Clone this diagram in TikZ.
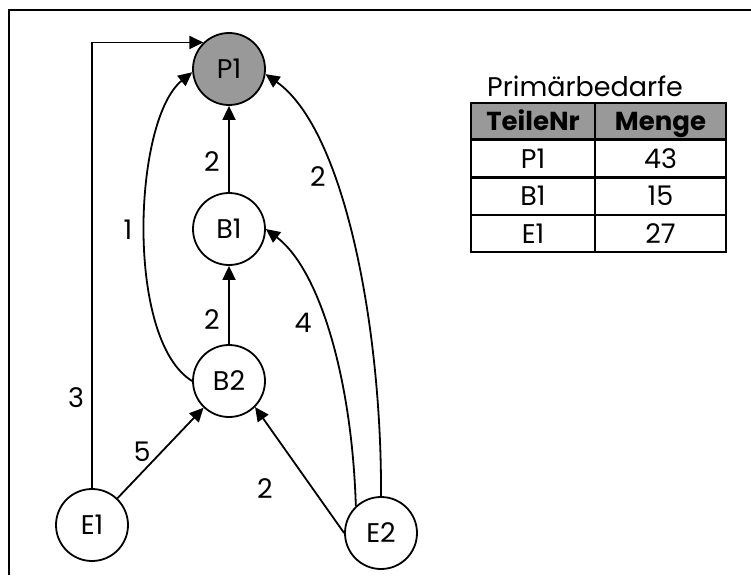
\documentclass[tikz,border=0pt]{standalone}
\usepackage{fontspec}
\setmainfont{Poppins}
\usetikzlibrary{arrows.meta}
\definecolor{pgray}{HTML}{999999}
\tikzset{
  part/.style={circle, draw, line width=1.8pt, minimum size=72pt, inner sep=0pt, font=\fontsize{27}{32}\selectfont},
  conn/.style={line width=1.8pt, -{Triangle[length=14pt,width=13pt]}},
  lbl/.style={font=\fontsize{27}{32}\selectfont, inner sep=0pt},
  cell/.style={draw, line width=2pt, inner sep=0pt, minimum height=37pt, text height=19pt, text depth=0pt, font=\fontsize{27}{32}\selectfont},
  hcell/.style={cell, fill=pgray, text height=18pt, font=\fontsize{26}{30}\selectfont\bfseries},
}
\begin{document}
\begin{tikzpicture}[x=1pt,y=-1pt]
\useasboundingbox (0,0) rectangle (751,575);
% frame
\draw[line width=2.5pt] (9,575) -- (9,10) -- (751,10);
% nodes
\node[part, fill=pgray] (P1) at (229,69) {P1};
\node[part] (B1) at (229,229) {B1};
\node[part] (B2) at (229,381) {B2};
\node[part] (E1) at (92,525) {E1};
\node[part] (E2) at (381,533) {E2};
% connectors
\draw[conn] (E1.north) |- (P1.134);
\draw[conn] (B2.west) .. controls (125,340) and (133,120) .. (P1.185);
\draw[conn] (B1) -- (P1);
\draw[conn] (B2) -- (B1);
\draw[conn] (E2.north) .. controls (382,330) and (345,130) .. (P1.-8);
\draw[conn] (E2.133) .. controls (352,380) and (320,270) .. (B1.east);
\draw[conn] (E2.west) -- (B2.-45);
\draw[conn] (E1) -- (B2);
% labels
\node[lbl] (l3) at (76,398) {3};
\node[lbl] (l5) at (142,452) {5};
\node[lbl] (l1) at (128,230) {1};
\node[lbl] (l2a) at (212,162) {2};
\node[lbl] (l2b) at (212,320) {2};
\node[lbl] (l2c) at (318,177) {2};
\node[lbl] (l4) at (303,323) {4};
\node[lbl] (l2d) at (265,489) {2};
% table
\node[lbl, anchor=base west] (title) at (487,97) {Primärbedarfe};
\node[hcell, minimum width=124pt, minimum height=36pt] (h1) at (533,121) {TeileNr};
\node[hcell, minimum width=131pt, minimum height=36pt] (h2) at (660.5,121) {Menge};
\node[cell, minimum width=124pt] (a1) at (533,158.5) {P1};
\node[cell, minimum width=131pt] (a2) at (660.5,158.5) {43};
\node[cell, minimum width=124pt] (b1) at (533,196) {B1};
\node[cell, minimum width=131pt] (b2) at (660.5,196) {15};
\node[cell, minimum width=124pt] (c1) at (533,233.5) {E1};
\node[cell, minimum width=131pt] (c2) at (660.5,233.5) {27};
\end{tikzpicture}
\end{document}
